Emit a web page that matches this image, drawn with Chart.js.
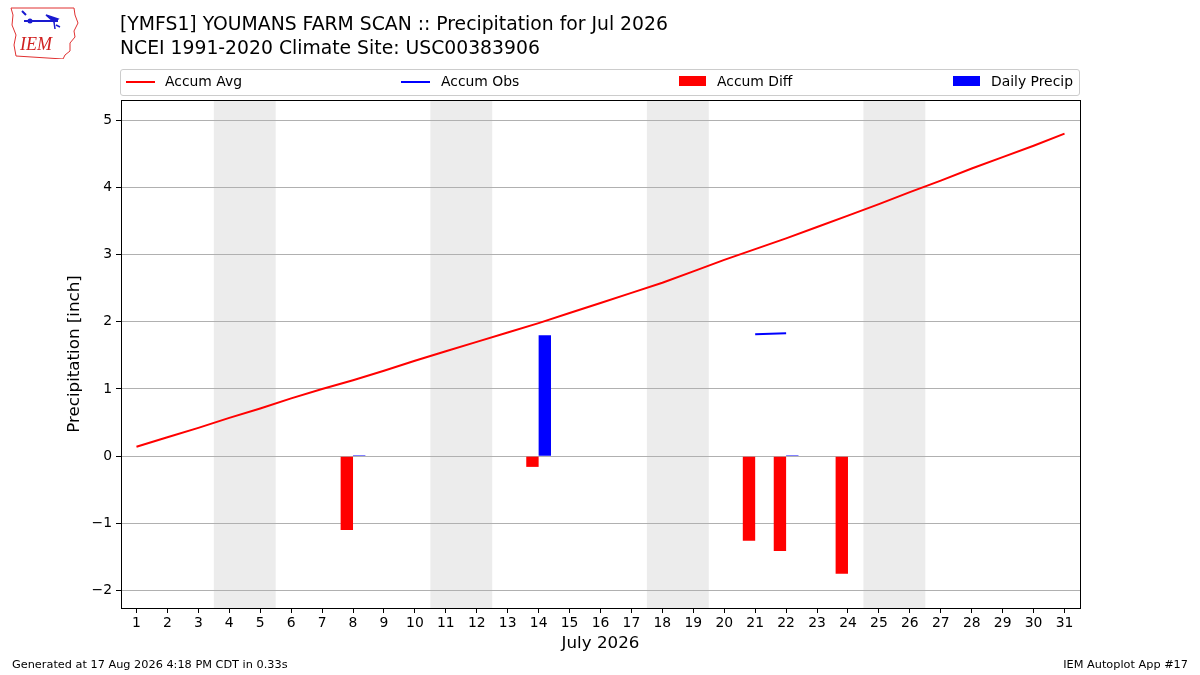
<!DOCTYPE html>
<html>
<head>
<meta charset="utf-8">
<script src="https://cdn.jsdelivr.net/npm/chart.js@4"></script>
<style>
  body { margin:0; background:#fff; }
  #wrap { position:relative; width:1200px; height:675px; font-family:"DejaVu Sans", sans-serif; color:#000; overflow:hidden; }
  #c { position:absolute; left:0; top:0; }
  .t { position:absolute; white-space:nowrap; }
  #legend { position:absolute; left:120px; top:69px; width:958px; height:25px; border:1px solid #cccccc; border-radius:3px; background:#fff; }
  .li { position:absolute; top:-1px; height:25px; line-height:25px; font-size:13.9px; }
  .sw-line { position:absolute; top:11px; height:2px; width:29px; }
  .sw-rect { position:absolute; top:6px; height:10px; width:27px; }
</style>
</head>
<body>
<div id="wrap">
  <canvas id="c" width="1200" height="675"></canvas>
  <svg class="t" style="left:8px;top:5px" width="72" height="54" viewBox="0 0 72 54">
    <path d="M3,3 L66,3 L67,10 L70,18 L66,26 L67,32 L62,38 L62,46 L57,50 L55,54 L8,51 L6,40 L8,30 L4,20 L5,10 Z" fill="none" stroke="#e03030" stroke-width="1"/>
    <path d="M14,6 L18,10 M16,16 L22,16 L40,16 L50,16" stroke="#1a1ad0" stroke-width="2" fill="none"/>
    <circle cx="22" cy="16" r="2.5" fill="#1a1ad0"/>
    <path d="M38,10 L50,14 L46,17 Z M46,17 L47,24 M48,20 L52,22" stroke="#1a1ad0" stroke-width="1.5" fill="#1a1ad0"/>
    <text x="12" y="45" font-family="Liberation Serif, serif" font-style="italic" font-size="18" fill="#d02020">IEM</text>
  </svg>
  <div class="t" style="left:120px;top:13px;font-size:18.8px;">[YMFS1] YOUMANS FARM SCAN :: Precipitation for Jul 2026</div>
  <div class="t" style="left:120px;top:37px;font-size:18.8px;">NCEI 1991-2020 Climate Site: USC00383906</div>
  <div id="legend">
    <div class="sw-line" style="left:5px;background:#ff0000"></div>
    <div class="li" style="left:44px">Accum Avg</div>
    <div class="sw-line" style="left:280px;background:#0000ff"></div>
    <div class="li" style="left:320px">Accum Obs</div>
    <div class="sw-rect" style="left:558px;background:#ff0000"></div>
    <div class="li" style="left:596px">Accum Diff</div>
    <div class="sw-rect" style="left:832px;background:#0000ff"></div>
    <div class="li" style="left:870px">Daily Precip</div>
  </div>
  <div class="t" style="left:12px;top:658px;font-size:11.3px;">Generated at 17 Aug 2026 4:18 PM CDT in 0.33s</div>
  <div class="t" style="right:12px;top:658px;font-size:11.3px;">IEM Autoplot App #17</div>
</div>
<script>
// ---- data ----
const days = ['1','2','3','4','5','6','7','8','9','10','11','12','13','14','15','16','17','18','19','20','21','22','23','24','25','26','27','28','29','30','31'];
const accumAvg = [0.14,0.28,0.42,0.57,0.71,0.86,1.00,1.13,1.27,1.42,1.56,1.70,1.84,1.98,2.13,2.28,2.43,2.58,2.75,2.92,3.08,3.24,3.41,3.58,3.75,3.93,4.10,4.28,4.45,4.62,4.80];
const accumObs = [null,null,null,null,null,null,null,null,null,null,null,null,null,null,null,null,null,null,null,null,1.815,1.83,null,null,null,null,null,null,null,null,null];
const accumDiff = [null,null,null,null,null,null,null,-1.10,null,null,null,null,null,-0.16,null,null,null,null,null,null,-1.26,-1.41,null,-1.75,null,null,null,null,null,null,null];
const dailyPrecip = [null,null,null,null,null,null,null,0.01,null,null,null,null,null,1.80,null,null,null,null,null,null,null,0.01,null,null,null,null,null,null,null,null,null];
const weekendSat = [4, 11, 18, 25];
const yTicks = [-2,-1,0,1,2,3,4,5];
const yMin = -2.26, yMax = 5.3;

const shadePlugin = {
  id: 'shade',
  beforeDraw(chart) {
    const {ctx, chartArea: a, scales: {x}} = chart;
    ctx.save();
    ctx.fillStyle = '#ececec';
    weekendSat.forEach(d => {
      const x0 = x.getPixelForValue(d - 1 - 0.5);
      const x1 = x.getPixelForValue(d - 1 + 1.5);
      ctx.fillRect(x0, a.top, x1 - x0, a.bottom - a.top);
    });
    ctx.restore();
  },
  afterDraw(chart) {
    const {ctx, chartArea: a} = chart;
    ctx.save();
    ctx.strokeStyle = '#000';
    ctx.lineWidth = 1;
    ctx.strokeRect(Math.round(a.left) + 0.5, Math.round(a.top) + 0.5, Math.round(a.right - a.left), Math.round(a.bottom - a.top));
    ctx.restore();
  }
};

new Chart(document.getElementById('c'), {
  data: {
    labels: days,
    datasets: [
      { type: 'line', label: 'Accum Avg', data: accumAvg, borderColor: '#ff0000', borderWidth: 2, pointRadius: 0, tension: 0, order: 0 },
      { type: 'line', label: 'Accum Obs', data: accumObs, borderColor: '#0000ff', borderWidth: 2, pointRadius: 0, tension: 0, spanGaps: false, order: 0 },
      { type: 'bar', label: 'Accum Diff', data: accumDiff, backgroundColor: '#ff0000', categoryPercentage: 0.8, barPercentage: 1.0, order: 1 },
      { type: 'bar', label: 'Daily Precip', data: dailyPrecip, backgroundColor: '#0000ff', categoryPercentage: 0.8, barPercentage: 1.0, minBarLength: 1, order: 1 }
    ]
  },
  options: {
    responsive: false,
    animation: false,
    devicePixelRatio: 1,
    layout: { padding: { left: 0, top: 100, right: 120, bottom: 0 } },
    plugins: { legend: { display: false }, tooltip: { enabled: false } },
    scales: {
      x: {
        type: 'category',
        offset: true,
        afterFit(s) { s.height = 67; },
        grid: { offset: false, drawOnChartArea: false, drawTicks: true, tickLength: 5, tickColor: '#000', tickWidth: 1 },
        border: { display: true, color: '#000', width: 1 },
        ticks: { color: '#000', font: { family: 'DejaVu Sans', size: 13.9 }, padding: 2, maxRotation: 0, autoSkip: false },
        title: { display: true, text: 'July 2026', color: '#000', font: { family: 'DejaVu Sans', size: 16.7 }, padding: { top: 0, bottom: 21 } }
      },
      y: {
        type: 'linear',
        min: yMin, max: yMax,
        afterFit(s) { s.width = 121; },
        afterBuildTicks(s) { s.ticks = yTicks.map(v => ({ value: v })); },
        grid: { color: '#b0b0b0', lineWidth: 1, drawTicks: true, tickLength: 5, tickColor: '#000', tickWidth: 1 },
        border: { display: true, color: '#000', width: 1 },
        ticks: { color: '#000', font: { family: 'DejaVu Sans', size: 13.9 }, padding: 4,
                 callback: v => (v < 0 ? '\u2212' + Math.abs(v) : String(v)) },
        title: { display: true, text: 'Precipitation [inch]', color: '#000', font: { family: 'DejaVu Sans', size: 16.7 }, padding: { top: 65, bottom: 0 } }
      }
    }
  },
  plugins: [shadePlugin]
});
</script>
</body>
</html>
